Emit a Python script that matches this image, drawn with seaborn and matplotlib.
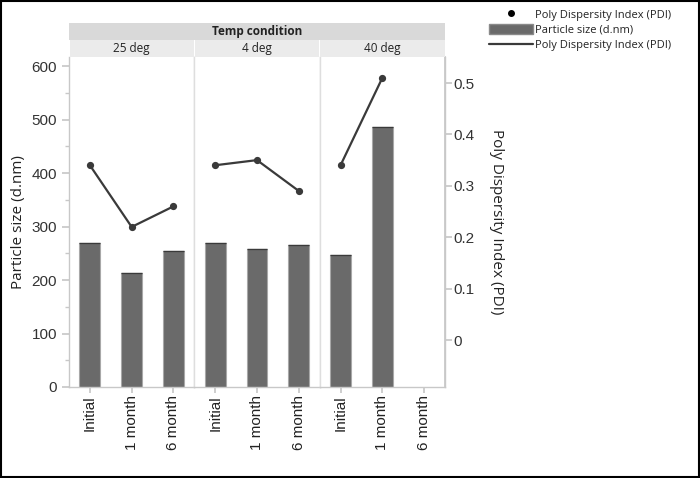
import numpy as np
import pandas as pd
import matplotlib
matplotlib.use("Agg")
import matplotlib.pyplot as plt
from matplotlib.patches import Rectangle, Patch
from matplotlib.lines import Line2D
from matplotlib.ticker import MultipleLocator
import seaborn as sns

# Data
temps = ['25 deg', '4 deg', '40 deg']
times = ['Initial', '1 month', '6 month']
size_25 = [269, 213, 254]
size_4 = [269, 258, 265]
size_40 = [247, 486, np.nan]
pdi_25 = [0.34, 0.22, 0.26]
pdi_4 = [0.34, 0.35, 0.29]
pdi_40 = [0.34, 0.51, np.nan]
pdi_ticks = [0, 0.1, 0.2, 0.3, 0.4, 0.5]
pdi_labels = ['0', '0.1', '0.2', '0.3', '0.4', '0.5']

rows = []
for t, sz, pd_ in zip(temps, [size_25, size_4, size_40], [pdi_25, pdi_4, pdi_40]):
    for tm, s, p in zip(times, sz, pd_):
        rows.append({'temp': t, 'time': tm, 'size': s, 'pdi': p})
df = pd.DataFrame(rows)

sns.set_theme(style="white")
plt.rcParams['font.family'] = ['Liberation Sans', 'DejaVu Sans']

W, H = 700, 478
fig = plt.figure(figsize=(7, 4.78), dpi=100)

bar_col = '#6a6a6a'
line_col = '#3a3a3a'
spine_col = '#c8c8c8'
sep_col = '#dedede'

x0, x1 = 69 / W, 445 / W
y0, y1 = 1 - 387 / H, 1 - 57 / H
pw = (x1 - x0) / 3

for i, t in enumerate(temps):
    sub = df[df['temp'] == t]
    ax = fig.add_axes([x0 + i * pw, y0, pw, y1 - y0])
    sns.barplot(data=sub, x='time', y='size', order=times, color=bar_col,
                width=0.5, saturation=1, edgecolor='#a8a8a8', linewidth=0.8,
                errorbar=None, ax=ax)
    # thin dark cap on top of each bar
    ax.hlines(sub['size'], np.arange(3) - 0.25, np.arange(3) + 0.25,
              color='#3a3a3a', linewidth=1.0, zorder=3)
    ax.set_ylim(0, 617)
    ax.set_xlim(-0.5, 2.5)
    ax.set_xlabel('')
    ax.set_ylabel('')
    for s in ax.spines.values():
        s.set_color(spine_col)
        s.set_linewidth(1)
    ax.spines['top'].set_visible(False)
    if i > 0:
        ax.spines['left'].set_color(sep_col)
    if i < 2:
        ax.spines['right'].set_color(sep_col)
    ax.tick_params(axis='x', bottom=True, length=4, color=spine_col,
                   labelsize=11, labelcolor='#222222', rotation=90, pad=2)
    if i == 0:
        ax.yaxis.set_major_locator(MultipleLocator(100))
        ax.yaxis.set_minor_locator(MultipleLocator(50))
        ax.tick_params(axis='y', which='major', left=True, length=5,
                       color=spine_col, labelsize=11, labelcolor='#333333')
        ax.tick_params(axis='y', which='minor', left=True, length=3,
                       color=spine_col)
        ax.set_ylabel('Particle size (d.nm)', fontsize=11, color='#222222',
                      family=['Open Sans', 'DejaVu Sans'], labelpad=4)
    else:
        ax.set_yticks([])

    tw = ax.twinx()
    sns.pointplot(data=sub, x='time', y='pdi', order=times, color=line_col,
                  markers='o', markersize=4, linewidth=1.6, errorbar=None,
                  ax=tw)
    tw.set_ylim(-0.0914, 0.5506)
    tw.set_xlim(-0.5, 2.5)
    tw.set_xlabel('')
    tw.set_ylabel('')
    for s in tw.spines.values():
        s.set_visible(False)
    if i == 2:
        tw.spines['right'].set_visible(True)
        tw.spines['right'].set_color(spine_col)
        tw.set_yticks(pdi_ticks)
        tw.set_yticklabels(pdi_labels)
        tw.tick_params(axis='y', right=True, length=5, color=spine_col,
                       labelsize=11, labelcolor='#333333', pad=1)
        tw.set_ylabel('Poly Dispersity Index (PDI)', fontsize=11,
                      color='#222222', rotation=270, labelpad=21,
                      family=['Open Sans', 'DejaVu Sans'])
    else:
        tw.set_yticks([])

# facet header
hdr = ['Open Sans', 'DejaVu Sans']
fig.add_artist(Rectangle((x0, 1 - 40 / H), x1 - x0, 17 / H,
                         transform=fig.transFigure, facecolor='#d9d9d9',
                         edgecolor='none'))
fig.text((x0 + x1) / 2, 1 - 31.5 / H, 'Temp condition', ha='center',
         va='center', fontsize=8.5, fontweight='bold', color='#222222',
         family=hdr)
for i, t in enumerate(temps):
    fig.add_artist(Rectangle((x0 + i * pw + 0.5 / W, 1 - 57 / H), pw - 1 / W,
                             17 / H, transform=fig.transFigure,
                             facecolor='#ebebeb', edgecolor='none'))
    fig.text(x0 + (i + 0.5) * pw, 1 - 48.5 / H, t, ha='center', va='center',
             fontsize=8.5, color='#222222', family=hdr)

# legend
handles = [
    Line2D([], [], color='black', marker='o', markersize=4, linestyle='none'),
    Patch(facecolor=bar_col, edgecolor='#8a8a8a'),
    Line2D([], [], color=line_col, linewidth=1.6),
]
labels = ['Poly Dispersity Index (PDI)', 'Particle size (d.nm)',
          'Poly Dispersity Index (PDI)']
fig.legend(handles, labels, loc='upper left',
           bbox_to_anchor=(481 / W, 1 - 1 / H), frameon=False,
           prop={'family': hdr, 'size': 8}, handlelength=4,
           handleheight=1.0, handletextpad=0.15, labelspacing=0.32,
           borderpad=0.2, labelcolor='#222222')

# outer frame
fig.add_artist(Rectangle((0.001, 0.002), 0.998, 0.996,
                         transform=fig.transFigure, facecolor='none',
                         edgecolor='black', linewidth=1.5))

fig.savefig('out.png', dpi=100)
